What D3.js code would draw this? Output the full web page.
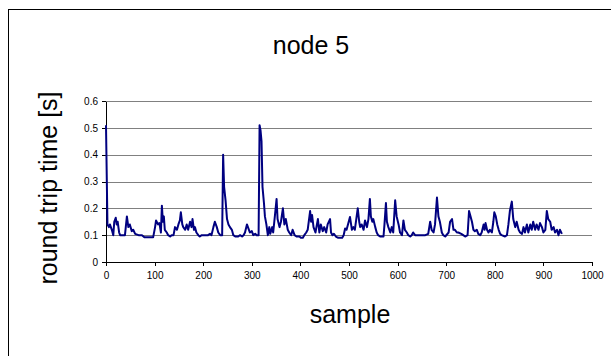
<!DOCTYPE html>
<html>
<head>
<meta charset="utf-8">
<script src="https://cdn.jsdelivr.net/npm/d3@7/dist/d3.min.js"></script>
<style>
    body { margin: 0; background: #fff; }
    svg { display: block; }
</style>
</head>
<body>
<script>
    // values (sample index, rtt in s)
    var sampleIdx = [0, 3, 6, 8, 12, 15, 17, 20, 22, 24, 27, 29, 39, 43, 46, 49, 53, 56, 60, 67,
        74, 79, 97, 101, 103, 107, 110, 113, 115, 117, 119, 121, 125, 128, 132, 135, 139, 142, 146, 149,
        152, 154, 157, 159, 163, 166, 169, 173, 176, 178, 181, 183, 186, 190, 193, 197, 210, 214, 217, 221,
        224, 228, 231, 235, 239, 241, 243, 246, 249, 252, 255, 259, 262, 266, 272, 276, 280, 283, 286, 290,
        293, 296, 300, 303, 307, 310, 314, 316, 318, 320, 322, 325, 327, 330, 333, 336, 338, 342, 344, 348,
        351, 353, 357, 360, 364, 367, 370, 374, 377, 381, 384, 388, 392, 398, 401, 405, 408, 412, 415, 420,
        422, 424, 427, 431, 436, 439, 442, 446, 449, 453, 456, 461, 463, 466, 469, 473, 478, 486, 489, 492,
        495, 502, 506, 509, 512, 518, 521, 523, 526, 530, 533, 537, 540, 543, 545, 548, 550, 554, 557, 560,
        564, 571, 573, 576, 578, 581, 585, 588, 591, 595, 598, 602, 605, 609, 612, 615, 619, 622, 626, 629,
        632, 636, 657, 663, 667, 670, 674, 677, 681, 684, 687, 691, 694, 698, 705, 708, 712, 715, 718, 722,
        725, 731, 735, 739, 744, 747, 750, 753, 756, 759, 763, 766, 770, 773, 777, 779, 781, 784, 787, 790,
        794, 797, 799, 802, 805, 808, 811, 814, 821, 825, 828, 831, 835, 838, 842, 845, 849, 852, 856, 859,
        862, 866, 869, 873, 876, 879, 883, 886, 890, 893, 897, 900, 904, 907, 910, 914, 917, 921, 924, 928,
        931, 934, 938];
    var rtt = [0.51, 0.14, 0.13, 0.14, 0.12, 0.10, 0.15, 0.165, 0.14, 0.15, 0.11, 0.10, 0.10, 0.17, 0.13, 0.14, 0.115, 0.12, 0.105, 0.10,
        0.10, 0.092, 0.092, 0.13, 0.155, 0.14, 0.145, 0.11, 0.21, 0.15, 0.17, 0.12, 0.11, 0.10, 0.095, 0.10, 0.10, 0.13, 0.12, 0.14,
        0.155, 0.185, 0.14, 0.13, 0.12, 0.14, 0.12, 0.15, 0.13, 0.16, 0.12, 0.13, 0.11, 0.10, 0.095, 0.10, 0.10, 0.105, 0.10, 0.13,
        0.15, 0.13, 0.11, 0.10, 0.10, 0.40, 0.28, 0.23, 0.16, 0.14, 0.13, 0.12, 0.10, 0.095, 0.095, 0.10, 0.095, 0.10, 0.11, 0.14,
        0.125, 0.11, 0.115, 0.10, 0.105, 0.10, 0.10, 0.51, 0.49, 0.45, 0.28, 0.22, 0.17, 0.14, 0.10, 0.13, 0.105, 0.13, 0.11, 0.18,
        0.235, 0.16, 0.13, 0.15, 0.20, 0.14, 0.16, 0.12, 0.11, 0.10, 0.12, 0.10, 0.095, 0.095, 0.09, 0.09, 0.10, 0.11, 0.12, 0.19,
        0.15, 0.175, 0.13, 0.11, 0.16, 0.11, 0.14, 0.115, 0.13, 0.11, 0.14, 0.16, 0.11, 0.10, 0.105, 0.095, 0.09, 0.09, 0.10, 0.125,
        0.12, 0.168, 0.12, 0.13, 0.12, 0.20, 0.15, 0.13, 0.14, 0.12, 0.155, 0.13, 0.16, 0.235, 0.17, 0.15, 0.16, 0.13, 0.11, 0.10,
        0.095, 0.095, 0.14, 0.22, 0.15, 0.13, 0.11, 0.13, 0.11, 0.23, 0.17, 0.14, 0.11, 0.10, 0.155, 0.12, 0.11, 0.10, 0.095, 0.10,
        0.11, 0.10, 0.10, 0.105, 0.15, 0.12, 0.11, 0.14, 0.24, 0.17, 0.15, 0.11, 0.10, 0.095, 0.11, 0.15, 0.16, 0.12, 0.12, 0.11,
        0.11, 0.105, 0.10, 0.095, 0.10, 0.19, 0.17, 0.15, 0.12, 0.115, 0.12, 0.105, 0.10, 0.11, 0.14, 0.12, 0.145, 0.12, 0.11, 0.12,
        0.11, 0.15, 0.185, 0.17, 0.14, 0.12, 0.105, 0.10, 0.095, 0.10, 0.14, 0.19, 0.225, 0.16, 0.13, 0.15, 0.12, 0.11, 0.105, 0.13,
        0.11, 0.14, 0.11, 0.14, 0.12, 0.15, 0.12, 0.14, 0.12, 0.145, 0.13, 0.11, 0.12, 0.19, 0.16, 0.15, 0.12, 0.13, 0.11, 0.12,
        0.10, 0.12, 0.105];
    var xTicks = [0, 100, 200, 300, 400, 500, 600, 700, 800, 900, 1000];
    var yTicks = [0, 0.1, 0.2, 0.3, 0.4, 0.5, 0.6];
    var yTickLabels = ["0", "0.1", "0.2", "0.3", "0.4", "0.5", "0.6"];

    var width = 611, height = 356;
    var plot = {"left": 106, "right": 592, "top": 101, "bottom": 262};
    var font = "Arial, 'Liberation Sans', sans-serif";

    var svg = d3.select("body")
        .append("svg")
        .attr("width", width)
        .attr("height", height);

    // chart area frame (runs off the picture to the right and bottom)
    svg.append("rect")
        .attr("x", 8.5)
        .attr("y", 9.5)
        .attr("width", 700)
        .attr("height", 500)
        .attr("fill", "none")
        .attr("stroke", "#000")
        .attr("stroke-width", 1);

    var xScale = d3.scaleLinear()
        .domain([0, 1000])
        .range([plot.left, plot.right]);

    var yScale = d3.scaleLinear()
        .domain([0, 0.6])
        .range([plot.bottom, plot.top]);

    //grid lines
    svg.append("g")
        .attr("transform", "translate(" + plot.left + ",0)")
        .call(d3.axisLeft(yScale).tickValues(yTicks.slice(1)).tickSize(-(plot.right - plot.left)).tickFormat(""))
        .call(g => g.select(".domain").remove())
        .selectAll("line")
        .attr("stroke", "#808080")
        .attr("shape-rendering", "crispEdges");

    //y axis
    var yAxis = svg.append("g")
        .attr("transform", "translate(" + plot.left + ",0)")
        .call(d3.axisLeft(yScale).tickValues(yTicks).tickSizeInner(4).tickSizeOuter(0).tickPadding(4)
            .tickFormat((d, i) => yTickLabels[i]));

    //x axis
    var xAxis = svg.append("g")
        .attr("transform", "translate(0," + plot.bottom + ")")
        .call(d3.axisBottom(xScale).tickValues(xTicks).tickSizeInner(4).tickSizeOuter(0).tickPadding(6)
            .tickFormat(d => d));

    [xAxis, yAxis].forEach(function(a) {
        a.selectAll("path, line")
            .attr("stroke", "#000")
            .attr("shape-rendering", "crispEdges");
        a.selectAll("text")
            .attr("fill", "#000")
            .style("font-family", font)
            .style("font-size", "10px");
    });

    //data line
    var line = d3.line()
        .x((d, i) => xScale(sampleIdx[i]))
        .y(d => yScale(d));

    svg.append("path")
        .datum(rtt)
        .attr("d", line)
        .attr("fill", "none")
        .attr("stroke", "#000080")
        .attr("stroke-width", 2)
        .attr("stroke-linejoin", "round");

    //title
    svg.append("text")
        .attr("x", 311)
        .attr("y", 54)
        .attr("text-anchor", "middle")
        .style("font-family", font)
        .style("font-size", "25px")
        .text("node 5");

    //x title
    svg.append("text")
        .attr("x", 350)
        .attr("y", 323)
        .attr("text-anchor", "middle")
        .style("font-family", font)
        .style("font-size", "25px")
        .text("sample");

    //y title
    svg.append("text")
        .attr("transform", "translate(57,188) rotate(-90)")
        .attr("text-anchor", "middle")
        .style("font-family", font)
        .style("font-size", "25px")
        .text("round trip time [s]");
</script>
</body>
</html>
